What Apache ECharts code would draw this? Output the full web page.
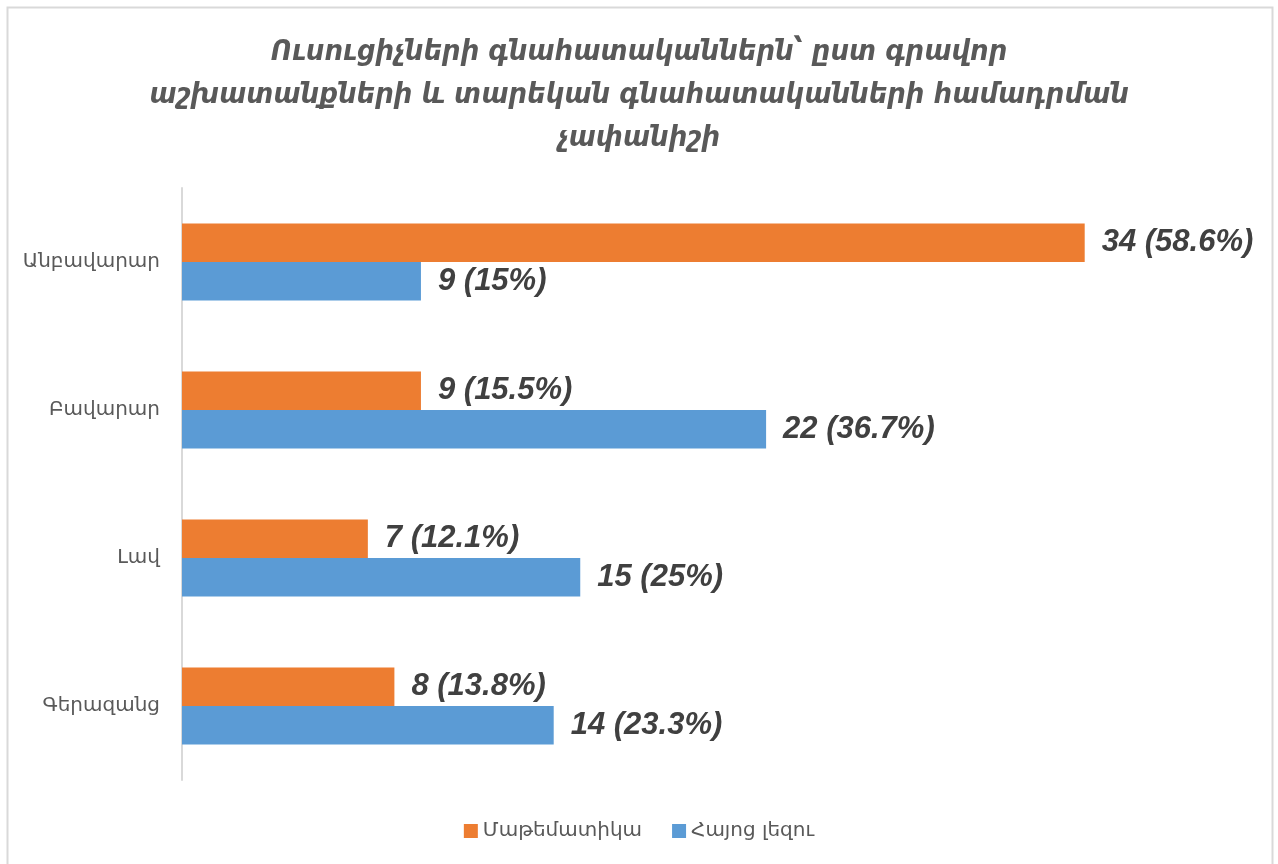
<!DOCTYPE html>
<html>
<head>
<meta charset="utf-8">
<title>Ուսուցիչների գնահատականները</title>
<script src="https://cdn.jsdelivr.net/npm/echarts@6/dist/echarts.min.js"></script>
<style>
    html, body { margin: 0; padding: 0; background: #fff; }
    #chart { width: 1278px; height: 864px; }
</style>
</head>
<body>
<div id="chart"></div>
<script>
// գնահատականներ (վերևից ներքև)
const categories = ['Անբավարար', 'Բավարար', 'Լավ', 'Գերազանց'];
const seriesNames = ['Մաթեմատիկա', 'Հայոց լեզու'];
const mathValues = [34, 9, 7, 8];
const mathPercent = ['58.6%', '15.5%', '12.1%', '13.8%'];
const armValues = [9, 22, 15, 14];
const armPercent = ['15%', '36.7%', '25%', '23.3%'];

window.addEventListener('DOMContentLoaded', function() {
    initChart();
});

function labelStyle(percents) {
    return {
        show: true,
        position: 'right',
        distance: 17,
        fontFamily: 'Liberation Sans',
        fontSize: 31,
        fontWeight: 'bold',
        fontStyle: 'italic',
        color: '#404040',
        formatter: function(p) {
            return p.value + ' (' + percents[p.dataIndex] + ')';
        }
    };
}

function initChart() {
    const chart = echarts.init(document.getElementById('chart'));
    const option = {
        animation: false,
        backgroundColor: '#fff',
        graphic: [
            {
                type: 'rect',
                shape: { x: 7.5, y: 7.5, width: 1265, height: 880 },
                style: { fill: 'none', stroke: '#d9d9d9', lineWidth: 2 },
                silent: true
            }
        ],
        title: {
            text: 'Ուսուցիչների գնահատականներն՝ ըստ գրավոր\nաշխատանքների և տարեկան գնահատականների համադրման\nչափանիշի',
            left: 'center',
            top: 26,
            textStyle: {
                fontFamily: 'DejaVu Sans Condensed',
                fontStyle: 'italic',
                fontWeight: 'bold',
                fontSize: 29,
                lineHeight: 43,
                color: '#595959'
            }
        },
        legend: {
            data: seriesNames,
            bottom: 18,
            left: 'center',
            icon: 'rect',
            itemWidth: 14,
            itemHeight: 14,
            itemGap: 30,
            textStyle: {
                fontFamily: 'DejaVu Sans',
                fontSize: 20,
                color: '#595959'
            }
        },
        grid: {
            left: 182,
            right: 34,
            top: 188,
            bottom: 84,
            containLabel: false
        },
        xAxis: {
            type: 'value',
            min: 0,
            max: 40,
            show: false
        },
        yAxis: {
            type: 'category',
            data: categories,
            inverse: true,
            axisLine: { lineStyle: { color: '#d9d9d9', width: 2 } },
            axisTick: { show: false },
            axisLabel: {
                margin: 22,
                fontFamily: 'DejaVu Sans',
                fontSize: 20,
                color: '#595959'
            }
        },
        series: [
            {
                name: seriesNames[0],
                type: 'bar',
                data: mathValues,
                barGap: '0%',
                barCategoryGap: '48%',
                itemStyle: { color: '#ED7D31' },
                label: labelStyle(mathPercent)
            },
            {
                name: seriesNames[1],
                type: 'bar',
                data: armValues,
                barGap: '0%',
                barCategoryGap: '48%',
                itemStyle: { color: '#5B9BD5' },
                label: labelStyle(armPercent)
            }
        ]
    };
    chart.setOption(option);
}
</script>
</body>
</html>
